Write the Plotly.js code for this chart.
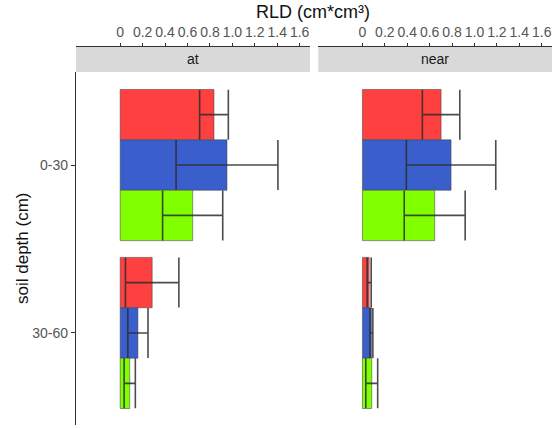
<!DOCTYPE html>
<html>
<head>
<meta charset="utf-8">
<script src="https://cdn.plot.ly/plotly-3.0.1.min.js"></script>
<style>html,body{margin:0;padding:0;background:#fff;}#chart{width:559px;height:428px;}</style>
</head>
<body>
<div id="chart"></div>
<script>
// categories and tick labels
const depths = ["0-30", "30-60"];
const panels = ["at", "near"];
const xTickVals = [0, 0.2, 0.4, 0.6, 0.8, 1.0, 1.2, 1.4, 1.6];
const xTickText = ["0", "0.2", "0.4", "0.6", "0.8", "1.0", "1.2", "1.4", "1.6"];

// series values (RLD means) and error half-widths, per panel
const atRed = [0.836, 0.285];
const atBlue = [0.952, 0.158];
const atGreen = [0.646, 0.085];
const atRedErr = [0.128, 0.238];
const atBlueErr = [0.454, 0.090];
const atGreenErr = [0.268, 0.050];

const nearRed = [0.702, 0.060];
const nearBlue = [0.791, 0.080];
const nearGreen = [0.645, 0.083];
const nearRedErr = [0.167, 0.018];
const nearBlueErr = [0.399, 0.013];
const nearGreenErr = [0.272, 0.053];

const colRed = "#FF4040";
const colBlue = "#3A5FCD";
const colGreen = "#7FFF00";

function barTrace(vals, errs, color, xa) {
  return {
    type: "bar", orientation: "h",
    x: vals, y: depths,
    xaxis: xa, yaxis: "y",
    marker: {color: color, line: {color: "rgba(70,70,70,0.8)", width: 0.7}},
    error_x: {type: "data", array: errs, visible: true, width: 25, thickness: 1.6, color: "rgba(45,45,45,0.85)"},
    showlegend: false, hoverinfo: "x+y"
  };
}

const data = [
  barTrace(atRed, atRedErr, colRed, "x"),
  barTrace(atBlue, atBlueErr, colBlue, "x"),
  barTrace(atGreen, atGreenErr, colGreen, "x"),
  barTrace(nearRed, nearRedErr, colRed, "x2"),
  barTrace(nearBlue, nearBlueErr, colBlue, "x2"),
  barTrace(nearGreen, nearGreenErr, colGreen, "x2")
];

const W = 559, H = 428;
const mL = 76, mR = 7, mT = 46, mB = 3;
const pw = W - mL - mR, ph = H - mT - mB;
const panelTop = 72;
const yTop = (H - mB - panelTop) / ph;
const d1 = [0, (310 - mL) / pw];
const d2 = [(318.3 - mL) / pw, 1];
const xr = [-0.394, 1.692];

function xAxis(domain) {
  return {
    domain: domain, range: xr, side: "top", anchor: "free", position: 1,
    tickmode: "array", tickvals: xTickVals, ticktext: xTickText,
    ticks: "outside", ticklen: 3, tickwidth: 1, tickcolor: "#333",
    showline: true, linecolor: "#333", linewidth: 1.2,
    showgrid: false, zeroline: false,
    tickfont: {family: "Liberation Sans, Arial, sans-serif", size: 14, color: "#555"}
  };
}

const font = "Liberation Sans, Arial, sans-serif";
const layout = {
  width: W, height: H,
  margin: {l: mL, r: mR, t: mT, b: mB},
  paper_bgcolor: "#fff", plot_bgcolor: "rgba(0,0,0,0)",
  barmode: "group", bargap: 0.1, bargroupgap: 0,
  xaxis: xAxis(d1),
  xaxis2: xAxis(d2),
  yaxis: {
    domain: [0, yTop], anchor: "x",
    type: "category", categoryorder: "array", categoryarray: depths,
    range: [1.548, -0.554],
    ticks: "outside", ticklen: 4, tickwidth: 1, tickcolor: "#333",
    showline: true, linecolor: "#333", linewidth: 1.2,
    showgrid: false, zeroline: false,
    tickfont: {family: font, size: 14, color: "#555"}
  },
  shapes: panels.map((p, i) => ({
    type: "rect", xref: "paper", yref: "paper",
    x0: (i === 0 ? d1 : d2)[0], x1: (i === 0 ? d1 : d2)[1],
    y0: yTop, y1: 1,
    fillcolor: "#D9D9D9", line: {width: 0}, layer: "below"
  })),
  annotations: [
    ...panels.map((p, i) => ({
      text: p, xref: "paper", yref: "paper",
      x: ((i === 0 ? d1 : d2)[0] + (i === 0 ? d1 : d2)[1]) / 2,
      y: (yTop + 1) / 2, xanchor: "center", yanchor: "middle",
      showarrow: false, font: {family: font, size: 14, color: "#1A1A1A"}
    })),
    {
      text: "RLD (cm*cm³)", xref: "paper", yref: "paper",
      x: (313 - mL) / pw, y: (H - mB - 12) / ph,
      xanchor: "center", yanchor: "middle", showarrow: false,
      font: {family: font, size: 18, color: "#111"}
    },
    {
      text: "soil depth (cm)", xref: "paper", yref: "paper",
      x: (22 - mL) / pw, y: (H - mB - 249) / ph, textangle: -90,
      xanchor: "center", yanchor: "middle", showarrow: false,
      font: {family: font, size: 17, color: "#111"}
    }
  ]
};

Plotly.newPlot("chart", data, layout, {displayModeBar: false, staticPlot: true});
</script>
</body>
</html>
